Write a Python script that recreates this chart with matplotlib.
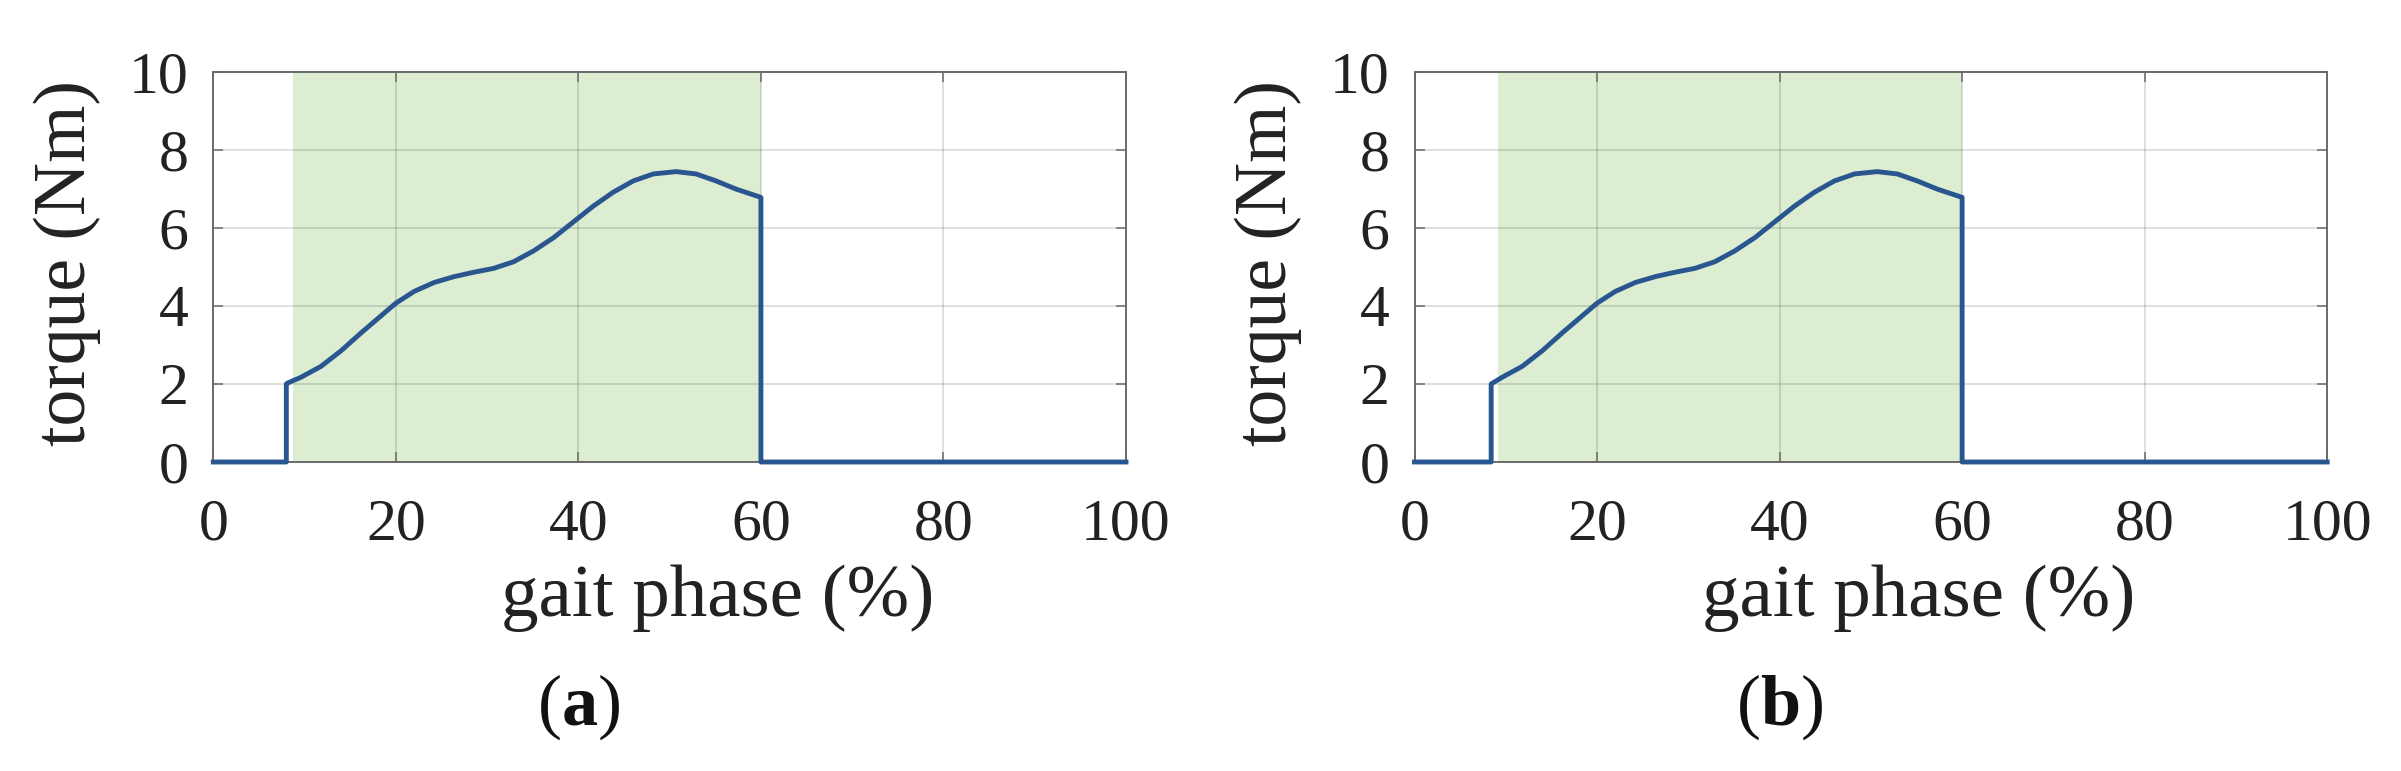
import matplotlib
matplotlib.use("Agg")
import matplotlib.pyplot as plt

# ---- data ----
gait_curve = [8.2, 9.6, 11.8, 14.0, 16.2, 18.4, 20.0, 22.0, 24.2, 26.4, 28.5, 30.7,
              32.9, 35.1, 37.3, 39.5, 41.6, 43.8, 46.0, 48.2, 50.7, 52.9, 55.1, 57.3, 60.0]
torque_curve = [2.03, 2.17, 2.45, 2.85, 3.31, 3.75, 4.07, 4.37, 4.60, 4.75, 4.86, 4.96,
                5.13, 5.41, 5.75, 6.16, 6.55, 6.91, 7.20, 7.38, 7.44, 7.38, 7.20, 6.99, 6.78]
onset = {"a": 8.0, "b": 8.4}          # step-up of torque (% gait)
shade_start = {"a": 8.7, "b": 9.1}    # start of shaded region
toe_off = 60.0
onset_torque = 2.0
panel_labels = ["a", "b"]
xticks = [0, 20, 40, 60, 80, 100]
yticks = [0, 2, 4, 6, 8, 10]

plt.rcParams["font.family"] = ["Liberation Serif", "DejaVu Serif"]
plt.rcParams["mathtext.fontset"] = "custom"
plt.rcParams["mathtext.rm"] = "Liberation Serif"
plt.rcParams["mathtext.bf"] = "Liberation Serif:bold"

W, H = 2401, 771
fig = plt.figure(figsize=(W / 100, H / 100), dpi=100)

line_color = "#2A5690"
green = "#DCEDD2"
spine_color = "#6A6A6A"

ax_left_px = {"a": 213.3, "b": 1414.5}
ax_w_px, ax_h_px = 912.7, 390.3
ax_bottom_px = 462.0

for p in panel_labels:
    ax = fig.add_axes([ax_left_px[p] / W, 1 - ax_bottom_px / H, ax_w_px / W, ax_h_px / H])
    on = onset[p]
    xs = [0.0, on, on] + [x for x in gait_curve if x > on] + [toe_off, 100.0]
    ys = [0.0, 0.0, onset_torque] + [y for x, y in zip(gait_curve, torque_curve) if x > on] + [0.0, 0.0]
    ax.axvspan(shade_start[p], toe_off, color=green, zorder=1, lw=0)
    ax.plot(xs, ys, color=line_color, lw=3.5, zorder=3, clip_on=False,
            solid_joinstyle="round")
    ax.set_xlim(0, 100)
    ax.set_ylim(0, 10)
    ax.set_xticks(xticks)
    ax.set_yticks(yticks)
    ax.set_axisbelow("line")
    ax.grid(True, color="black", alpha=0.15, lw=1.2)
    ax.tick_params(direction="in", length=7, width=1.1, color=spine_color,
                   top=True, right=True, labelsize=43, labelcolor="#222222")
    ax.tick_params(axis="x", pad=26)
    ax.tick_params(axis="y", pad=18)
    for s in ax.spines.values():
        s.set_color(spine_color)
        s.set_linewidth(1.4)
        s.set_zorder(2.5)

    ax.set_xlabel("gait phase (%)", fontsize=54, color="#222222", va="baseline")
    ax.xaxis.set_label_coords((717.5 - 213.3) / ax_w_px, (ax_bottom_px - 616) / ax_h_px)
    ax.set_ylabel("torque (Nm)", fontsize=53, color="#222222", va="baseline")
    ax.yaxis.set_label_coords((85 - 213.3) / ax_w_px, (ax_bottom_px - 262.5) / ax_h_px)

    cx = ax_left_px[p] + (578.5 - 213.3)
    fig.text(cx / W, 1 - 725 / H, "(" + r"$\mathbf{" + p + "}$" + ")",
             fontsize=52, ha="center", va="baseline", color="#111111")

fig.savefig("out.png", dpi=100)
